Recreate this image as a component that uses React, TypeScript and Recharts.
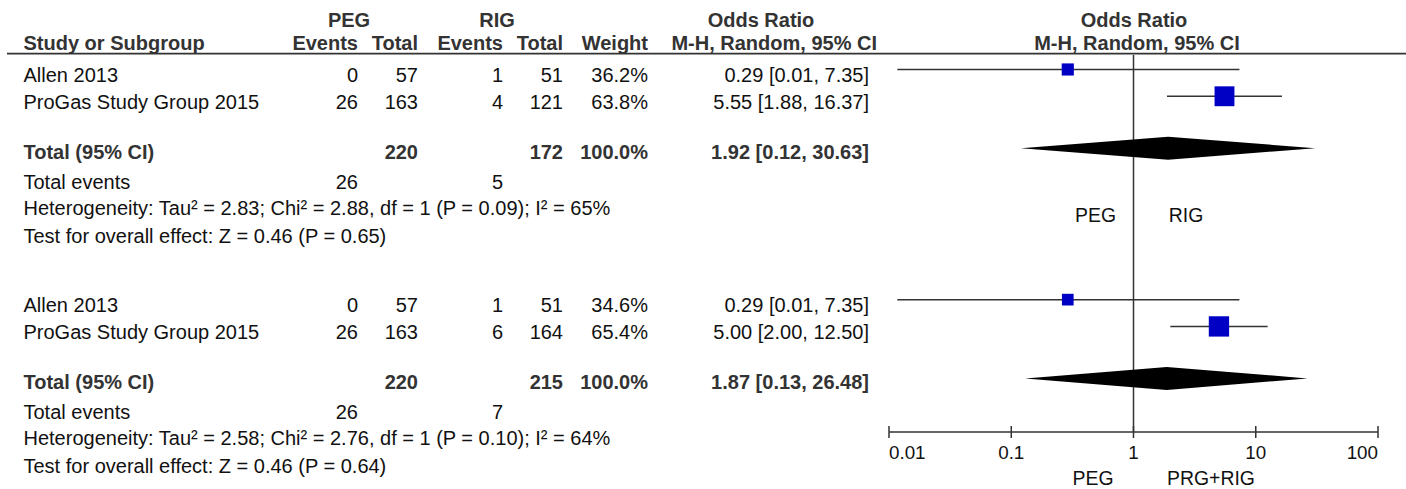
import React from 'react';
import { ComposedChart, Scatter, XAxis, YAxis, ReferenceLine } from 'recharts';

// ---------------- data ----------------
const STUDIES = ['Allen 2013', 'ProGas Study Group 2015'];

// Comparison 1: PEG vs RIG
const C1_PEG_EVENTS = [0, 26];
const C1_PEG_TOTAL = [57, 163];
const C1_RIG_EVENTS = [1, 4];
const C1_RIG_TOTAL = [51, 121];
const C1_WEIGHT = [36.2, 63.8];
const C1_OR = [0.29, 5.55];
const C1_LO = [0.0117, 1.88];
const C1_HI = [7.35, 16.37];
const C1_POOLED = [1.92, 0.12, 30.63]; // OR, lower, upper
const C1_TOTALS = [220, 172]; // PEG total, RIG total
const C1_EVENTS = [26, 5];
const C1_HET = 'Heterogeneity: Tau\u00B2 = 2.83; Chi\u00B2 = 2.88, df = 1 (P = 0.09); I\u00B2 = 65%';
const C1_TEST = 'Test for overall effect: Z = 0.46 (P = 0.65)';

// Comparison 2: PEG vs PRG+RIG
const C2_PEG_EVENTS = [0, 26];
const C2_PEG_TOTAL = [57, 163];
const C2_RIG_EVENTS = [1, 6];
const C2_RIG_TOTAL = [51, 164];
const C2_WEIGHT = [34.6, 65.4];
const C2_OR = [0.29, 5.0];
const C2_LO = [0.0117, 2.0];
const C2_HI = [7.35, 12.5];
const C2_POOLED = [1.87, 0.13, 26.48];
const C2_TOTALS = [220, 215];
const C2_EVENTS = [26, 7];
const C2_HET = 'Heterogeneity: Tau\u00B2 = 2.58; Chi\u00B2 = 2.76, df = 1 (P = 0.10); I\u00B2 = 64%';
const C2_TEST = 'Test for overall effect: Z = 0.46 (P = 0.64)';

const TICK_VALUES = [0.01, 0.1, 1, 10, 100];
const TICK_LABELS = ['0.01', '0.1', '1', '10', '100'];
const MID_LABELS = ['PEG', 'RIG'];
const AXIS_LABELS = ['PEG', 'PRG+RIG'];

// ---------------- layout ----------------
const W = 1406;
const H = 489;
const FONT = '"Liberation Sans", Arial, Helvetica, sans-serif';
const FS = 20;
const Y_SPAN = 14.07;
const BLOCK_START = [0.54, 9.13];
const TOTAL_OFFSET = 2.94;
const DIAMOND_HALF = 11.5;
const TEXT_TOP = [82, 312];
const COL = { study: 23.5, pegEv: 358, pegTot: 418, rigEv: 503, rigTot: 563, weight: 648, ci: 869, ciHead: 877 };

const fmt = (v: number) => v.toFixed(2);
const ciText = (o: number, l: number, h: number) => `${fmt(o)} [${fmt(l)}, ${fmt(h)}]`;

const Txt = ({ x, y, anchor = 'start', bold = false, size = FS, children }: any) => (
  <text
    x={x}
    y={y}
    textAnchor={anchor}
    fontFamily={FONT}
    fontSize={size}
    fontWeight={bold ? 'bold' : 'normal'}
    fill={bold ? '#333' : '#111'}
  >
    {children}
  </text>
);

const AxisTick = (props: any) => {
  const { x, y, payload } = props;
  const i = TICK_VALUES.indexOf(payload.value);
  const anchor = i === 0 ? 'start' : i === TICK_VALUES.length - 1 ? 'end' : 'middle';
  return (
    <g>
      <line x1={x} x2={x} y1={y - 6} y2={y + 6} stroke="#333" strokeWidth={1.5} />
      <text x={x} y={y + 26.5} textAnchor={anchor} fontFamily={FONT} fontSize={18.8} fill="#111">
        {TICK_LABELS[i]}
      </text>
    </g>
  );
};

const Square = (props: any) => {
  const { cx, cy, payload } = props;
  const s = 2 + 0.28 * payload.w;
  return <rect x={cx - s / 2} y={cy - s / 2} width={s} height={s} fill="#0000c4" />;
};

const Nothing = () => <g />;

const diamondLine = (props: any) => {
  const [a, m, b] = props.points;
  return (
    <polygon
      points={`${a.x},${a.y} ${m.x},${m.y - DIAMOND_HALF} ${b.x},${b.y} ${m.x},${m.y + DIAMOND_HALF}`}
      fill="#000"
      stroke="none"
    />
  );
};

const COMPS = [
  {
    pe: C1_PEG_EVENTS, pt: C1_PEG_TOTAL, re: C1_RIG_EVENTS, rt: C1_RIG_TOTAL, w: C1_WEIGHT,
    or: C1_OR, lo: C1_LO, hi: C1_HI, pooled: C1_POOLED, totals: C1_TOTALS, events: C1_EVENTS,
    het: C1_HET, test: C1_TEST,
  },
  {
    pe: C2_PEG_EVENTS, pt: C2_PEG_TOTAL, re: C2_RIG_EVENTS, rt: C2_RIG_TOTAL, w: C2_WEIGHT,
    or: C2_OR, lo: C2_LO, hi: C2_HI, pooled: C2_POOLED, totals: C2_TOTALS, events: C2_EVENTS,
    het: C2_HET, test: C2_TEST,
  },
];

export default function App() {
  const squares: any[] = [];
  const ciLines: any[][] = [];
  const diamonds: any[][] = [];
  COMPS.forEach((c, b) => {
    STUDIES.forEach((_, i) => {
      const y = BLOCK_START[b] + i;
      squares.push({ x: c.or[i], y, w: c.w[i] });
      ciLines.push([{ x: c.lo[i], y }, { x: c.hi[i], y }]);
    });
    const ty = BLOCK_START[b] + TOTAL_OFFSET;
    diamonds.push([
      { x: c.pooled[1], y: ty },
      { x: c.pooled[0], y: ty },
      { x: c.pooled[2], y: ty },
    ]);
  });

  return (
    <div style={{ position: 'absolute', left: 0, top: 0, width: W, height: H, background: '#fff' }}>
      <ComposedChart width={W} height={H} margin={{ top: 55, right: 28, bottom: 0, left: 889 }}>
        <XAxis
          dataKey="x"
          type="number"
          scale="log"
          domain={[0.01, 100]}
          allowDataOverflow
          ticks={TICK_VALUES}
          interval={0}
          tick={(p: any) => <AxisTick {...p} />}
          tickSize={0}
          tickMargin={0}
          tickLine={false}
          axisLine={{ stroke: '#333', strokeWidth: 1.5 }}
          height={57}
        />
        <YAxis dataKey="y" type="number" domain={[0, Y_SPAN]} reversed hide allowDataOverflow />
        <ReferenceLine x={1} stroke="#333" strokeWidth={1.5} />
        {ciLines.map((d, k) => (
          <Scatter
            key={`ci${k}`}
            data={d}
            line={{ stroke: '#333', strokeWidth: 1.5 }}
            shape={Nothing}
            isAnimationActive={false}
            legendType="none"
          />
        ))}
        {diamonds.map((d, k) => (
          <Scatter
            key={`dm${k}`}
            data={d}
            line={diamondLine}
            shape={Nothing}
            isAnimationActive={false}
            legendType="none"
          />
        ))}
        <Scatter data={squares} shape={Square} isAnimationActive={false} legendType="none" />
      </ComposedChart>
      <svg width={W} height={H} style={{ position: 'absolute', left: 0, top: 0, pointerEvents: 'none' }}>
        <line x1={7} x2={W} y1={53.6} y2={53.6} stroke="#333" strokeWidth={1.7} />
        <Txt x={349} y={26.7} anchor="middle" bold>PEG</Txt>
        <Txt x={497} y={26.7} anchor="middle" bold>RIG</Txt>
        <Txt x={761} y={26.7} anchor="middle" bold>Odds Ratio</Txt>
        <Txt x={1134} y={26.7} anchor="middle" bold>Odds Ratio</Txt>
        <Txt x={COL.study} y={49.5} bold>Study or Subgroup</Txt>
        <Txt x={COL.pegEv} y={49.5} anchor="end" bold>Events</Txt>
        <Txt x={COL.pegTot} y={49.5} anchor="end" bold>Total</Txt>
        <Txt x={COL.rigEv} y={49.5} anchor="end" bold>Events</Txt>
        <Txt x={COL.rigTot} y={49.5} anchor="end" bold>Total</Txt>
        <Txt x={COL.weight} y={49.5} anchor="end" bold>Weight</Txt>
        <Txt x={COL.ciHead} y={49.5} anchor="end" bold>M-H, Random, 95% CI</Txt>
        <Txt x={1137} y={49.5} anchor="middle" bold>M-H, Random, 95% CI</Txt>

        {COMPS.map((c, b) => {
          const t = TEXT_TOP[b];
          return (
            <g key={`blk${b}`}>
              {STUDIES.map((s, i) => {
                const y = t + i * 27;
                return (
                  <g key={`r${i}`}>
                    <Txt x={COL.study} y={y}>{s}</Txt>
                    <Txt x={COL.pegEv} y={y} anchor="end">{c.pe[i]}</Txt>
                    <Txt x={COL.pegTot} y={y} anchor="end">{c.pt[i]}</Txt>
                    <Txt x={COL.rigEv} y={y} anchor="end">{c.re[i]}</Txt>
                    <Txt x={COL.rigTot} y={y} anchor="end">{c.rt[i]}</Txt>
                    <Txt x={COL.weight} y={y} anchor="end">{c.w[i].toFixed(1)}%</Txt>
                    <Txt x={COL.ci} y={y} anchor="end">{ciText(c.or[i], c.lo[i], c.hi[i])}</Txt>
                  </g>
                );
              })}
              <Txt x={COL.study} y={t + 76.5} bold>Total (95% CI)</Txt>
              <Txt x={COL.pegTot} y={t + 76.5} anchor="end" bold>{c.totals[0]}</Txt>
              <Txt x={COL.rigTot} y={t + 76.5} anchor="end" bold>{c.totals[1]}</Txt>
              <Txt x={COL.weight} y={t + 76.5} anchor="end" bold>100.0%</Txt>
              <Txt x={COL.ci} y={t + 76.5} anchor="end" bold>{ciText(c.pooled[0], c.pooled[1], c.pooled[2])}</Txt>
              <Txt x={COL.study} y={t + 107}>Total events</Txt>
              <Txt x={COL.pegEv} y={t + 107} anchor="end">{c.events[0]}</Txt>
              <Txt x={COL.rigEv} y={t + 107} anchor="end">{c.events[1]}</Txt>
              <Txt x={COL.study} y={t + 132.5}>{c.het}</Txt>
              <Txt x={COL.study} y={t + 161}>{c.test}</Txt>
            </g>
          );
        })}

        <Txt x={1095.5} y={222} anchor="middle" size={19.4}>{MID_LABELS[0]}</Txt>
        <Txt x={1186} y={222} anchor="middle" size={19.4}>{MID_LABELS[1]}</Txt>
        <Txt x={1093} y={485} anchor="middle" size={19.4}>{AXIS_LABELS[0]}</Txt>
        <Txt x={1211} y={485} anchor="middle" size={19.4}>{AXIS_LABELS[1]}</Txt>
      </svg>
    </div>
  );
}
